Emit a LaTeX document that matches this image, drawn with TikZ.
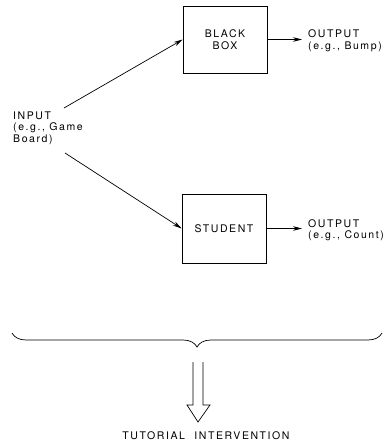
\documentclass[tikz,border=0pt]{standalone}
\usepackage{fontspec}
\setmainfont{TeX Gyre Heros}[LetterSpace=15]
\usepackage{tikz}
\usetikzlibrary{arrows.meta, positioning, decorations.pathreplacing}

\begin{document}
\begin{tikzpicture}[
  x=1pt, y=-1pt,
  every node/.style={font=\fontsize{10.5}{11.5}\selectfont, inner sep=0pt},
  procbox/.style={draw, line width=0.6pt, minimum width=84pt,
    minimum height=67pt, align=center},
  txt/.style={align=left, anchor=west},
  arrow/.style={-{Stealth[length=9pt, width=4.5pt]}, line width=0.7pt},
]
  \useasboundingbox (0,0) rectangle (388,442);

  % Boxes
  \node[procbox] (bb) at (225,39.5) {BLACK\\[1pt]BOX};
  \node[procbox, minimum height=69pt] (st) at (224,228.5) {STUDENT};

  % Input and outputs
  \node[txt] (input) at (13,128) {INPUT\\(e.g., Game\\Board)};
  \node[txt] (outA) at (308,40.5) {OUTPUT\\(e.g., Bump)};
  \node[txt] (outB) at (308,230) {OUTPUT\\(e.g., Count)};
  \coordinate (inA) at (64,108);
  \coordinate (inB) at (65,153);

  % Connectors
  \draw[arrow] (inA) -- (bb.west);
  \draw[arrow] (inB) -- (st.west);
  \draw[arrow, shorten >=6pt] (bb.east) -- (bb.east -| outA.west);
  \draw[arrow, shorten >=6pt] (st.east) -- (st.east -| outB.west);

  % Brace and hollow arrow
  \draw[decorate, decoration={brace, mirror, amplitude=14pt}, line width=0.7pt]
    (12,333) -- (382,333);
  \draw[line width=0.7pt, line join=miter]
    (193,362) -- (193,405) -- (187,405) -- (198,422) -- (210,405)
    -- (203,405) -- (203,362);

  \node (tut) at (206,436) {TUTORIAL\hspace{5pt} INTERVENTION};
\end{tikzpicture}
\end{document}
